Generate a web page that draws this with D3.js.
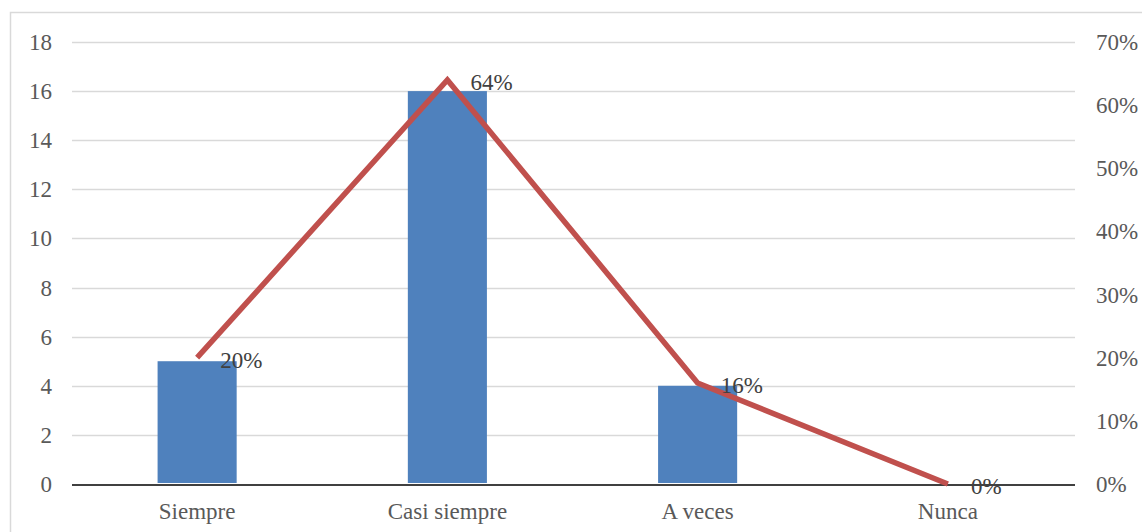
<!DOCTYPE html>
<html>
<head>
<meta charset="utf-8">
<script src="https://cdn.jsdelivr.net/npm/d3@7"></script>
<style>
  body { margin: 0; background: #fff; }
</style>
</head>
<body>
<svg id="chart" width="1142" height="532"></svg>
<script>
const categories = ["Siempre", "Casi siempre", "A veces", "Nunca"];
const counts = [5, 16, 4, 0];
const percents = [0.20, 0.64, 0.16, 0.00];
const leftTicks = [0, 2, 4, 6, 8, 10, 12, 14, 16, 18];
const rightTicks = [0, 0.1, 0.2, 0.3, 0.4, 0.5, 0.6, 0.7];

const FONT = "'Liberation Serif', 'Times New Roman', 'DejaVu Serif', serif";

const svg = d3.select("#chart").attr("font-family", FONT);
const plotLeft = 72, plotRight = 1075, plotTop = 42, plotBottom = 484;

// outer frame (right/bottom edges fall outside the picture)
svg.append("rect")
  .attr("x", 10.5).attr("y", 12.5)
  .attr("width", 1200).attr("height", 600)
  .attr("fill", "none").attr("stroke", "#d9d9d9").attr("stroke-width", 1.5);

const x = d3.scaleBand()
  .domain(categories)
  .range([plotLeft, plotRight - 2])
  .paddingInner(0.684)
  .paddingOuter(0.342);

const yLeft = d3.scaleLinear().domain([0, 18]).range([plotBottom, plotTop]);
const yRight = d3.scaleLinear().domain([0, 0.7]).range([plotBottom, plotTop]);

// gridlines
svg.append("g")
  .selectAll("line")
  .data(leftTicks.filter(d => d > 0))
  .join("line")
  .attr("x1", plotLeft).attr("x2", plotRight)
  .attr("y1", d => Math.round(yLeft(d)) + 0.5)
  .attr("y2", d => Math.round(yLeft(d)) + 0.5)
  .attr("stroke", "#d9d9d9").attr("stroke-width", 1.3);

// left axis labels
svg.append("g")
  .selectAll("text")
  .data(leftTicks)
  .join("text")
  .attr("x", 52)
  .attr("y", d => yLeft(d))
  .attr("dy", "0.35em")
  .attr("text-anchor", "end")
  .attr("font-family", FONT)
  .attr("font-size", 23)
  .attr("fill", "#595959")
  .text(d => d);

// right axis labels
svg.append("g")
  .selectAll("text")
  .data(rightTicks)
  .join("text")
  .attr("x", 1096)
  .attr("y", d => yRight(d))
  .attr("dy", "0.35em")
  .attr("text-anchor", "start")
  .attr("font-family", FONT)
  .attr("font-size", 23)
  .attr("fill", "#595959")
  .text(d => d3.format(".0%")(d));

// bars
svg.append("g")
  .selectAll("rect")
  .data(categories)
  .join("rect")
  .attr("x", d => x(d))
  .attr("y", (d, i) => yLeft(counts[i]))
  .attr("width", x.bandwidth())
  .attr("height", (d, i) => yLeft(0) - yLeft(counts[i]) - 1)
  .attr("fill", "#4f81bd");

// category axis line
svg.append("line")
  .attr("x1", plotLeft).attr("x2", plotRight)
  .attr("y1", plotBottom + 1).attr("y2", plotBottom + 1)
  .attr("stroke", "#404040").attr("stroke-width", 1.8);

// category labels
svg.append("g")
  .selectAll("text")
  .data(categories)
  .join("text")
  .attr("x", d => x(d) + x.bandwidth() / 2)
  .attr("y", 511)
  .attr("dy", "0.35em")
  .attr("text-anchor", "middle")
  .attr("font-family", FONT)
  .attr("font-size", 23)
  .attr("fill", "#595959")
  .text(d => d);

// percentage line
const line = d3.line()
  .x((d, i) => x(categories[i]) + x.bandwidth() / 2)
  .y(d => yRight(d));

svg.append("path")
  .datum(percents)
  .attr("d", line)
  .attr("fill", "none")
  .attr("stroke", "#c0504d")
  .attr("stroke-width", 5.5)
  .attr("stroke-linejoin", "miter");

// data labels
svg.append("g")
  .selectAll("text")
  .data(percents)
  .join("text")
  .attr("x", (d, i) => x(categories[i]) + x.bandwidth() / 2 + 23)
  .attr("y", d => yRight(d) + 2)
  .attr("dy", "0.35em")
  .attr("font-family", FONT)
  .attr("font-size", 23)
  .attr("fill", "#404040")
  .text(d => d3.format(".0%")(d));
</script>
</body>
</html>
